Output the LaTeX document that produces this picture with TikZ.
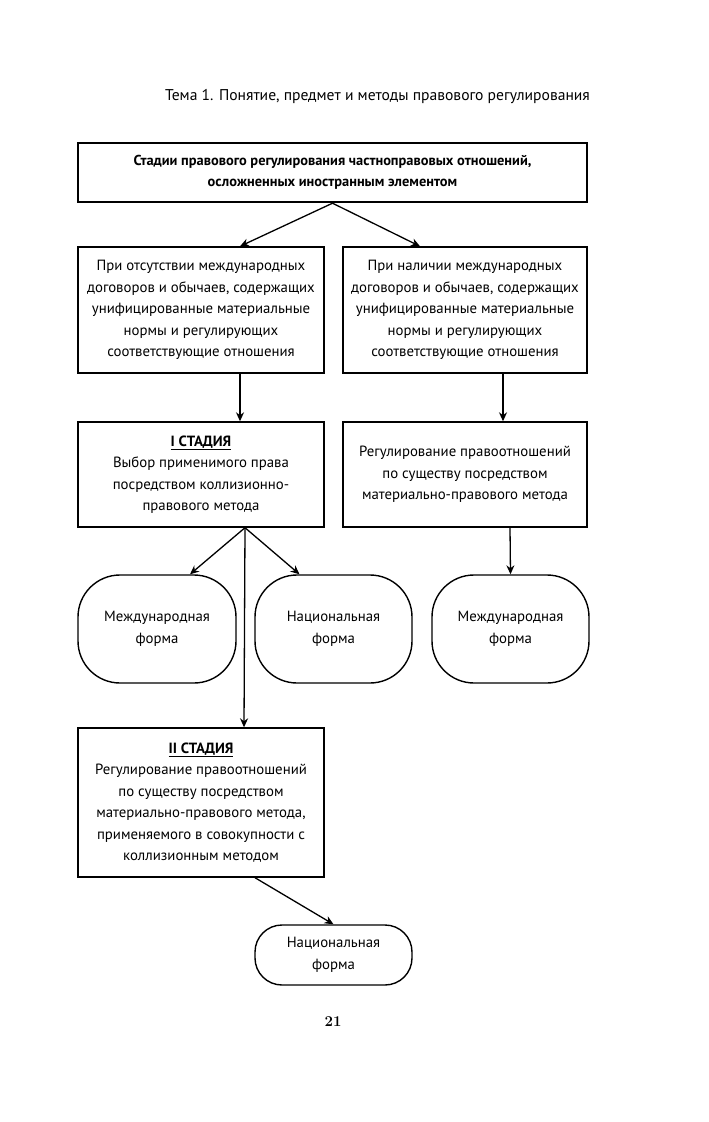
\documentclass[tikz,border=0pt]{standalone}
\usepackage{fontspec}
\setsansfont{PT Sans}
\usetikzlibrary{arrows.meta}
\begin{document}
\begin{tikzpicture}[x=1pt,y=-1pt,font=\sffamily,
  box/.style={draw,line width=1.4pt,align=center,inner sep=2pt,font=\sffamily\fontsize{14.8}{21.5}\selectfont},
  oval/.style={draw,line width=1.4pt,align=center,rounded corners=42pt,font=\sffamily\fontsize{14.8}{21.5}\selectfont},
  arr/.style={line width=1.3pt,-{Stealth[length=9pt,width=8pt]}}]
\useasboundingbox (0,0) rectangle (709,1122);
\node[font=\sffamily\fontsize{15.6}{18}\selectfont] (hdr) at (377.5,97) {Тема 1. Понятие, предмет и методы правового регулирования};
\node[box,line width=2.4pt,minimum width=509pt,minimum height=59pt,font=\sffamily\bfseries\fontsize{14.4}{21.5}\selectfont] (top) at (332.5,172.5)
  {Стадии правового регулирования частноправовых отношений,\\осложненных иностранным элементом};
\node[box,minimum width=246pt,minimum height=126pt] (l1) at (201,310)
  {При отсутствии международных\\договоров и обычаев, содержащих\\унифицированные материальные\\нормы и регулирующих\\соответствующие отношения};
\node[box,minimum width=244pt,minimum height=126pt] (r1) at (465,310)
  {При наличии международных\\договоров и обычаев, содержащих\\унифицированные материальные\\нормы и регулирующих\\соответствующие отношения};
\node[box,minimum width=246pt,minimum height=105pt] (l2) at (201,474.5)
  {\underline{\textbf{I СТАДИЯ}}\\Выбор применимого права\\посредством коллизионно-\\правового метода};
\node[box,minimum width=244pt,minimum height=105pt] (r2) at (465,474.5)
  {Регулирование правоотношений\\по существу посредством\\материально-правового метода};
\node[oval,minimum width=158pt,minimum height=108pt] (o1) at (157,629) {Международная\\форма};
\node[oval,minimum width=157pt,minimum height=108pt] (o2) at (333.5,629) {Национальная\\форма};
\node[oval,minimum width=157pt,minimum height=108pt] (o3) at (510.5,629) {Международная\\форма};
\node[box,minimum width=246pt,minimum height=149pt] (l3) at (201,802.5)
  {\underline{\textbf{II СТАДИЯ}}\\Регулирование правоотношений\\по существу посредством\\материально-правового метода,\\применяемого в совокупности с\\коллизионным методом};
\node[oval,rounded corners=27pt,minimum width=157pt,minimum height=60pt] (o4) at (333.5,955) {Национальная\\форма};
\node[font=\rmfamily\bfseries\fontsize{15}{16}\selectfont] (pg) at (333,1022) {21};
\draw[arr] (top.south) -- ([xshift=39pt]l1.north);
\draw[arr] (top.south) -- ([xshift=-45pt]r1.north);
\draw[arr] ([xshift=39pt]l1.south) -- ([xshift=39pt]l2.north);
\draw[arr] ([xshift=38pt]r1.south) -- ([xshift=38pt]r2.north);
\draw[arr] ([xshift=44pt]l2.south) -- ([xshift=33pt]o1.north);
\draw[arr] ([xshift=44pt]l2.south) -- ([xshift=-34pt]o2.north);
\draw[arr] ([xshift=44pt]l2.south) -- ([xshift=43pt]l3.north);
\draw[arr] ([xshift=45pt]r2.south) -- (o3.north);
\draw[arr] ([xshift=54pt]l3.south) -- (o4.north);
\end{tikzpicture}
\end{document}
